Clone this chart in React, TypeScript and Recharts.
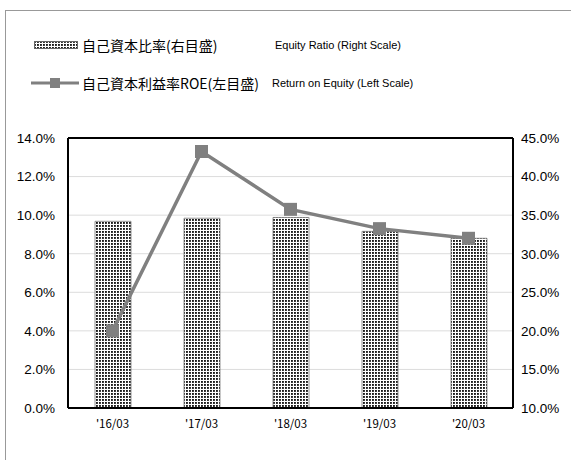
import React from 'react';
import {
  ComposedChart,
  Bar,
  Line,
  XAxis,
  YAxis,
  CartesianGrid,
  ReferenceLine,
} from 'recharts';

const categories = ["'16/03", "'17/03", "'18/03", "'19/03", "'20/03"];
const equityRatio = [34.2, 34.6, 34.7, 32.9, 32.0]; // right scale, %
const roe = [4.0, 13.3, 10.3, 9.3, 8.8]; // left scale, %
const leftTicks = [0, 2, 4, 6, 8, 10, 12, 14];
const rightTicks = [10, 15, 20, 25, 30, 35, 40, 45];

const data = categories.map((name, i) => ({
  name,
  equity: equityRatio[i],
  roe: roe[i],
}));

const GRAY = '#808080';
const pct = (v: number) => `${v.toFixed(1)}%`;

const SquareDot = (props: any) => {
  const { cx, cy } = props;
  if (cx == null || cy == null) return null;
  return <rect x={cx - 6.5} y={cy - 6.5} width={13} height={13} fill={GRAY} />;
};

const DotPattern = ({ id }: { id: string }) => (
  <pattern id={id} width={3} height={3} patternUnits="userSpaceOnUse">
    <rect width={3} height={3} fill="#fff" />
    <rect width={1.9} height={1.9} fill="#1a1a1a" />
  </pattern>
);

export default function App() {
  return (
    <div
      style={{
        position: 'absolute',
        left: 0,
        top: 0,
        width: 571,
        height: 460,
        overflow: 'hidden',
        background: '#fff',
        fontFamily: '"Liberation Sans", Arial, sans-serif',
      }}
    >
      {/* outer frame */}
      <div
        style={{
          position: 'absolute',
          left: 5,
          top: 10,
          width: 700,
          height: 600,
          border: '1px solid #999',
        }}
      />

      {/* legend */}
      <div style={{ position: 'absolute', left: 34, top: 35, display: 'flex', alignItems: 'center' }}>
        <svg width={44} height={8} style={{ marginRight: 4 }}>
          <defs>
            <DotPattern id="legendDots" />
          </defs>
          <rect x={0.5} y={0.5} width={43} height={7} fill="url(#legendDots)" stroke="#666" strokeWidth={1} />
        </svg>
        <span style={{ fontFamily: '"Noto Sans CJK JP", sans-serif', fontSize: 14, width: 193 }}>
          自己資本比率(右目盛)
        </span>
        <span style={{ fontSize: 11 }}>Equity Ratio (Right Scale)</span>
      </div>
      <div style={{ position: 'absolute', left: 31, top: 73, display: 'flex', alignItems: 'center' }}>
        <svg width={48} height={12} style={{ marginRight: 3 }}>
          <line x1={0} y1={6} x2={48} y2={6} stroke={GRAY} strokeWidth={3} />
          <rect x={19} y={1} width={10} height={10} fill={GRAY} />
        </svg>
        <span style={{ fontFamily: '"Noto Sans CJK JP", sans-serif', fontSize: 14, width: 190 }}>
          自己資本利益率ROE(左目盛)
        </span>
        <span style={{ fontSize: 11 }}>Return on Equity (Left Scale)</span>
      </div>

      <div style={{ position: 'absolute', left: 0, top: 0 }}>
        <ComposedChart
          width={571}
          height={460}
          data={data}
          margin={{ top: 138, right: 0, bottom: 22, left: 0 }}
        >
          <defs>
            <DotPattern id="barDots" />
          </defs>
          <CartesianGrid vertical={false} stroke="#dcdcdc" yAxisId="left" />
          <XAxis
            dataKey="name"
            height={30}
            axisLine={{ stroke: '#000', strokeWidth: 2 }}
            tickLine={false}
            tick={{ fontSize: 11.5, fill: '#000', fontFamily: '"Noto Sans CJK JP", sans-serif' }}
            tickMargin={6}
          />
          <YAxis
            yAxisId="left"
            domain={[0, 14]}
            ticks={leftTicks}
            width={68}
            tickFormatter={pct}
            axisLine={{ stroke: '#000', strokeWidth: 2 }}
            tickLine={false}
            tick={{ fontSize: 13.5, fill: '#000' }}
            tickMargin={7}
            allowDataOverflow
          />
          <YAxis
            yAxisId="right"
            orientation="right"
            domain={[10, 45]}
            ticks={rightTicks}
            width={58}
            tickFormatter={pct}
            axisLine={{ stroke: '#000', strokeWidth: 2 }}
            tickLine={false}
            tick={{ fontSize: 13.5, fill: '#000' }}
            tickMargin={2}
            allowDataOverflow
          />
          <ReferenceLine yAxisId="left" y={14} stroke="#000" strokeWidth={2} />
          <Bar
            yAxisId="right"
            dataKey="equity"
            barSize={36}
            fill="url(#barDots)"
            stroke="#777"
            strokeWidth={0.8}
            isAnimationActive={false}
          />
          <Line
            yAxisId="left"
            dataKey="roe"
            stroke={GRAY}
            strokeWidth={3.5}
            dot={<SquareDot />}
            activeDot={false}
            isAnimationActive={false}
          />
        </ComposedChart>
      </div>
    </div>
  );
}
